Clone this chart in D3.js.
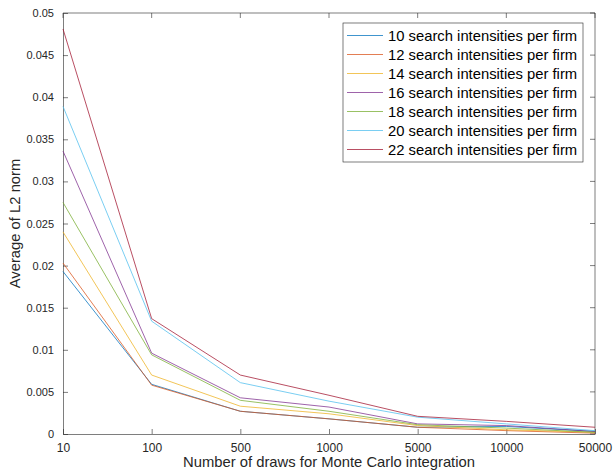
<!DOCTYPE html>
<html>
<head>
<meta charset="utf-8">
<script src="https://cdn.jsdelivr.net/npm/d3@7"></script>
<style>
  body { margin: 0; background: #fff; }
  svg { font-family: "Liberation Sans", Arial, Helvetica, sans-serif; }
  .tick text { fill: #262626; }
  .x-axis .tick text { font-size: 12px; }
  .y-axis .tick text { font-size: 11px; }
  .domain, .tick line { stroke: #262626; }
</style>
</head>
<body>
<div id="chart"></div>
<script>
// x categories (number of draws)
const draws = ['10', '100', '500', '1000', '5000', '10000', '50000'];
const seriesNames = [
    '10 search intensities per firm',
    '12 search intensities per firm',
    '14 search intensities per firm',
    '16 search intensities per firm',
    '18 search intensities per firm',
    '20 search intensities per firm',
    '22 search intensities per firm'
];
// values
const si10 = [0.0193, 0.0059, 0.0027, 0.0018, 0.0008, 0.0009, 0.0003];
const si12 = [0.0203, 0.0058, 0.0027, 0.0018, 0.0008, 0.0004, 0.0001];
const si14 = [0.0240, 0.0070, 0.0033, 0.0024, 0.0010, 0.0005, 0.0002];
const si16 = [0.0336, 0.0096, 0.0043, 0.0032, 0.0012, 0.0010, 0.0003];
const si18 = [0.0275, 0.0094, 0.0040, 0.0027, 0.0011, 0.0007, 0.0002];
const si20 = [0.0389, 0.0134, 0.0061, 0.0039, 0.0020, 0.0012, 0.0004];
const si22 = [0.0481, 0.0137, 0.0070, 0.0046, 0.0021, 0.0015, 0.0008];
const yTicks = [0, 0.005, 0.01, 0.015, 0.02, 0.025, 0.03, 0.035, 0.04, 0.045, 0.05];
const colors = ['#0072BD', '#D95319', '#EDB120', '#7E2F8E', '#77AC30', '#4DBEEE', '#A2142F'];

const allSeries = [si10, si12, si14, si16, si18, si20, si22];

const WIDTH = 613, HEIGHT = 471;
const margin = { top: 13, right: 18, bottom: 37, left: 63 };
const w = WIDTH - margin.left - margin.right;
const h = HEIGHT - margin.top - margin.bottom;

const svg = d3.select('#chart').append('svg')
    .attr('width', WIDTH)
    .attr('height', HEIGHT);

const g = svg.append('g')
    .attr('transform', `translate(${margin.left},${margin.top})`);

const x = d3.scalePoint().domain(draws).range([0, w]);
const y = d3.scaleLinear().domain([0, 0.05]).range([h, 0]);

// box (top and right edges)
g.append('path')
    .attr('d', `M0,0H${w}V${h}`)
    .attr('fill', 'none')
    .attr('stroke', '#262626')
    .attr('stroke-width', 0.6);

// top/right ticks like matlab
g.selectAll('.top-tick').data(draws).enter().append('line')
    .attr('x1', d => x(d)).attr('x2', d => x(d))
    .attr('y1', 0).attr('y2', 5)
    .attr('stroke', '#262626').attr('stroke-width', 0.6);
g.selectAll('.right-tick').data(yTicks).enter().append('line')
    .attr('x1', w).attr('x2', w - 5)
    .attr('y1', d => y(d)).attr('y2', d => y(d))
    .attr('stroke', '#262626').attr('stroke-width', 0.6);

const xAxis = g.append('g')
    .attr('class', 'x-axis')
    .attr('transform', `translate(0,${h})`)
    .call(d3.axisBottom(x).tickSizeInner(-5).tickSizeOuter(0).tickPadding(9));
xAxis.selectAll('line, path').attr('stroke-width', 0.6);

const yAxis = g.append('g')
    .attr('class', 'y-axis')
    .call(d3.axisLeft(y).tickValues(yTicks).tickFormat(d => d3.format('')(+d.toFixed(3)))
        .tickSizeInner(-5).tickSizeOuter(0).tickPadding(9));
yAxis.selectAll('line, path').attr('stroke-width', 0.6);

// lines
const line = d3.line()
    .x((d, i) => x(draws[i]))
    .y(d => y(d));

g.selectAll('.series').data(allSeries).enter().append('path')
    .attr('class', 'series')
    .attr('d', d => line(d))
    .attr('fill', 'none')
    .attr('stroke', (d, i) => colors[i])
    .attr('stroke-opacity', 0.75)
    .attr('stroke-width', 1);

// axis labels
svg.append('text')
    .attr('x', margin.left + w / 2)
    .attr('y', 467)
    .attr('text-anchor', 'middle')
    .attr('font-size', 14.8)
    .attr('fill', '#262626')
    .text('Number of draws for Monte Carlo integration');

svg.append('text')
    .attr('transform', `translate(20,${margin.top + h / 2}) rotate(-90)`)
    .attr('text-anchor', 'middle')
    .attr('font-size', 14.8)
    .attr('fill', '#262626')
    .text('Average of L2 norm');

// legend
const legend = svg.append('g').attr('transform', 'translate(343,23)');
legend.append('rect')
    .attr('width', 240).attr('height', 139)
    .attr('fill', '#fff')
    .attr('stroke', '#262626').attr('stroke-width', 0.6);

const rows = legend.selectAll('.row').data(seriesNames).enter().append('g')
    .attr('transform', (d, i) => `translate(0,${12.5 + i * 19})`);
rows.append('line')
    .attr('x1', 4).attr('x2', 40)
    .attr('stroke', (d, i) => colors[i])
    .attr('stroke-opacity', 0.75)
    .attr('stroke-width', 1);
rows.append('text')
    .attr('x', 45).attr('dy', '0.35em')
    .attr('font-size', 14.8)
    .attr('fill', '#000')
    .text(d => d);
</script>
</body>
</html>
